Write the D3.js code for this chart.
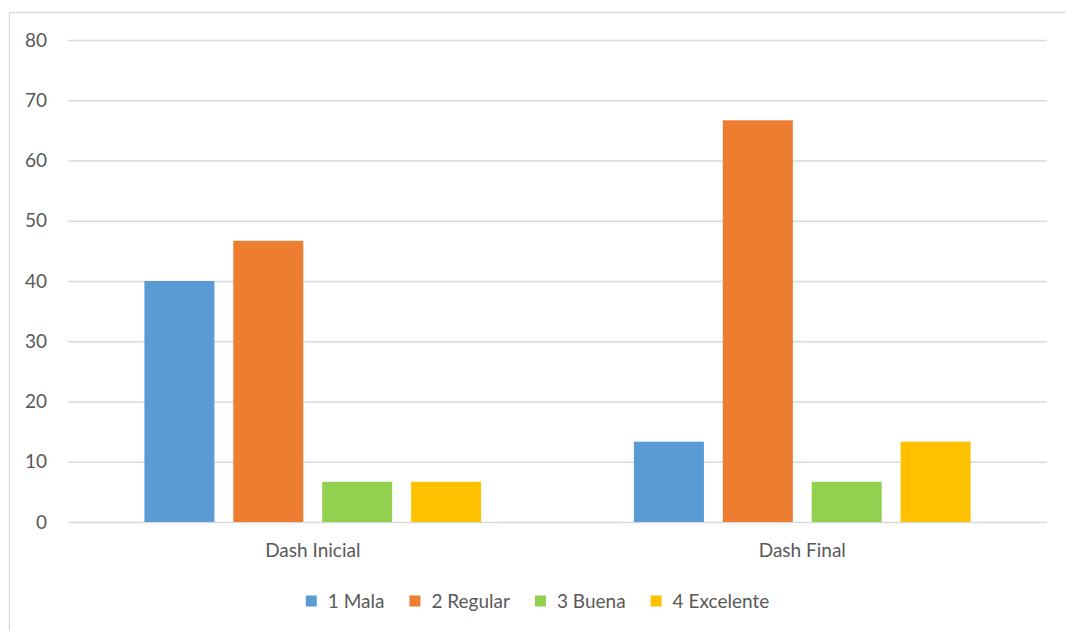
<!DOCTYPE html>
<html>
<head>
<meta charset="utf-8">
<script src="https://cdn.jsdelivr.net/npm/d3@7/dist/d3.min.js"></script>
<style>
  html, body { margin: 0; padding: 0; background: #fff; }
  svg { display: block; }
  text { font-family: Lato, "Liberation Sans", sans-serif; fill: #595959; }
</style>
</head>
<body>
<svg id="chart" width="1066" height="631"></svg>
<script>
const categories = ["Dash Inicial", "Dash Final"];
const seriesNames = ["1 Mala", "2 Regular", "3 Buena", "4 Excelente"];
const seriesColors = ["#5B9BD5", "#ED7D31", "#92D050", "#FFC000"];
const valuesInicial = [40, 46.67, 6.67, 6.67];
const valuesFinal = [13.33, 66.67, 6.67, 13.33];
const yTicks = [0, 10, 20, 30, 40, 50, 60, 70, 80];

const data = [valuesInicial, valuesFinal];
const FS = 19;

const svg = d3.select("#chart");
const W = 1066, H = 631;

// chart border
svg.append("rect")
  .attr("x", 9.5).attr("y", 12.5)
  .attr("width", W).attr("height", H)
  .attr("fill", "none").attr("stroke", "#D9D9D9").attr("stroke-width", 1.3);

const plot = { left: 68, right: 1047, top: 40, bottom: 522 };

const y = d3.scaleLinear().domain([0, 80]).range([plot.bottom, plot.top]);
const x0 = d3.scaleBand().domain(categories).range([plot.left, plot.right]).paddingInner(0).paddingOuter(0);
const bw = x0.bandwidth();
const groupW = 355.6;
const x1 = d3.scaleBand().domain(seriesNames)
  .range([(bw - groupW) / 2, (bw + groupW) / 2])
  .paddingInner(0.2125).paddingOuter(0.10625);

// gridlines
const yAxis = d3.axisLeft(y).tickValues(yTicks).tickSize(-(plot.right - plot.left)).tickPadding(21);
const gy = svg.append("g").attr("transform", `translate(${plot.left},0)`).call(yAxis);
gy.select(".domain").remove();
gy.selectAll(".tick line").attr("stroke", "#D9D9D9").attr("stroke-width", 1.3);
gy.selectAll(".tick text").attr("font-size", FS).attr("fill", "#595959")
  .style("font-family", "Lato, 'Liberation Sans', sans-serif");

// bars
const groups = svg.append("g").selectAll("g")
  .data(categories)
  .join("g")
  .attr("transform", d => `translate(${x0(d)},0)`);

groups.selectAll("rect")
  .data((d, i) => data[i].map((v, j) => ({ name: seriesNames[j], value: v, color: seriesColors[j] })))
  .join("rect")
  .attr("x", d => x1(d.name))
  .attr("width", x1.bandwidth())
  .attr("y", d => y(d.value))
  .attr("height", d => y(0) - y(d.value))
  .attr("fill", d => d.color);

// category axis
const xAxis = d3.axisBottom(x0).tickSize(0).tickPadding(22);
const gx = svg.append("g").attr("transform", `translate(0,${plot.bottom})`).call(xAxis);
gx.select(".domain").remove();
gx.selectAll(".tick text").attr("font-size", FS).attr("fill", "#595959")
  .style("font-family", "Lato, 'Liberation Sans', sans-serif");

// legend
const legend = svg.append("g");
const items = legend.selectAll("g").data(seriesNames).join("g");
items.append("rect").attr("width", 11).attr("height", 11).attr("y", -5.5)
  .attr("fill", (d, i) => seriesColors[i]);
items.append("text").attr("x", 22).attr("dy", "0.35em").attr("font-size", FS).text(d => d);
let cx = 0;
items.each(function () {
  const g = d3.select(this);
  g.attr("transform", `translate(${cx},0)`);
  const tw = g.select("text").node().getComputedTextLength();
  cx += 22 + tw + 25;
});
const totalW = cx - 25;
legend.attr("transform", `translate(${537.5 - totalW / 2},601)`);
</script>
</body>
</html>
